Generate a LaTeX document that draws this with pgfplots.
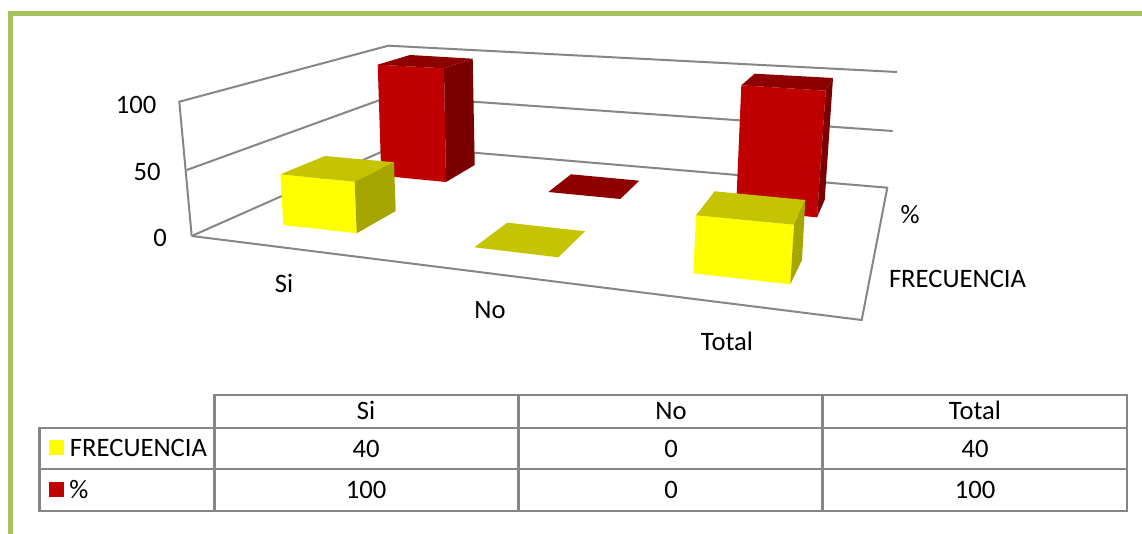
\documentclass[border=0pt]{standalone}
\usepackage{pgfplots}
\pgfplotsset{compat=1.18}
\usepackage{fontspec}
\setmainfont{Carlito}
\definecolor{wall}{HTML}{868686}
\definecolor{frame}{HTML}{A4C35F}
\definecolor{yF}{HTML}{FFFF00}
\definecolor{yT}{HTML}{C4C400}
\definecolor{yR}{HTML}{A6A600}
\definecolor{rF}{HTML}{C00000}
\definecolor{rT}{HTML}{8E0000}
\definecolor{rR}{HTML}{7A0000}
\newcommand{\lab}[3]{\node[anchor=center,inner sep=0pt,yshift=-2.5pt,font=\fontsize{26.6}{29}\selectfont] at (axis cs:#1,#2) {\strut #3};}
\begin{document}
\begin{tikzpicture}
\begin{axis}[
  scale only axis, width=1142pt, height=534pt,
  xmin=0, xmax=1142, ymin=0, ymax=534, y dir=reverse,
  hide axis, clip=true, axis background/.style={fill=white},
  every axis plot/.append style={mark=none, line join=miter}
]
% frame
\addplot[frame, line width=5pt] coordinates {(10.5,534) (10.5,14) (1142,14)};
% walls and floor
\addplot[wall, line width=2pt] coordinates {(191.7,236) (861.7,320) (887.3,187.7) (394.7,146) (191.7,236)};
\addplot[wall, line width=2pt] coordinates {(191.7,236) (179.3,101.7) (388.3,45.7) (897,72)};
\addplot[wall, line width=2pt] coordinates {(186.7,170) (391,96) (892.7,131)};
% % series, Si
\addplot[fill=rF, draw=none] coordinates {(377.7,64.7) (444,68.3) (446,182) (381.3,175.7)} -- cycle;
\addplot[fill=rT, draw=none] coordinates {(377.7,64.7) (410,55) (472.7,58.7) (444,68.3)} -- cycle;
\addplot[fill=rR, draw=none] coordinates {(444,68.3) (472.7,58.7) (474.7,165) (446,182)} -- cycle;
% FRECUENCIA, Si
\addplot[fill=yF, draw=none] coordinates {(280.3,174.3) (354.7,181.7) (356.7,233.3) (283.3,225)} -- cycle;
\addplot[fill=yT, draw=none] coordinates {(280.3,174.3) (325,156) (394,162.3) (354.7,181.7)} -- cycle;
\addplot[fill=yR, draw=none] coordinates {(354.7,181.7) (394,162.3) (395.7,211) (356.7,233.3)} -- cycle;
% No (zero height)
\addplot[fill=rT, draw=none] coordinates {(571,174.3) (639.3,180.7) (620.3,199) (548.3,192)} -- cycle;
\addplot[fill=yT, draw=none] coordinates {(507.3,222.7) (585,231.3) (558.3,257.3) (474.3,247.3)} -- cycle;
% % series, Total
\addplot[fill=rF, draw=none] coordinates {(741.3,85.3) (825.7,90.7) (817,217.3) (736,210)} -- cycle;
\addplot[fill=rT, draw=none] coordinates {(741.3,85.3) (754.7,73.7) (833,78) (825.7,90.7)} -- cycle;
\addplot[fill=rR, draw=none] coordinates {(825.7,90.7) (833,78) (824.7,200) (817,217.3)} -- cycle;
% FRECUENCIA, Total
\addplot[fill=yF, draw=none] coordinates {(696,215.3) (794,224.7) (790.3,284.3) (693.3,273.3)} -- cycle;
\addplot[fill=yT, draw=none] coordinates {(696,215.3) (714.7,191.3) (805.3,200) (794,224.7)} -- cycle;
\addplot[fill=yR, draw=none] coordinates {(794,224.7) (805.3,200) (802,260) (790.3,284.3)} -- cycle;
% table grid
\addplot[wall, line width=2.4pt] coordinates {(214.5,511) (214.5,395) (1127,395) (1127,511) (39.5,511) (39.5,428) (1127,428)};
\addplot[wall, line width=2.4pt] coordinates {(39.5,469) (1127,469)};
\addplot[wall, line width=2.4pt] coordinates {(518.5,395) (518.5,511)};
\addplot[wall, line width=2.4pt] coordinates {(822.5,395) (822.5,511)};
% legend keys
\addplot[fill=yF, draw=none] coordinates {(49,440) (64,440) (64,455) (49,455)} -- cycle;
\addplot[fill=rF, draw=none] coordinates {(49,482) (64,482) (64,497) (49,497)} -- cycle;
% axis text
\lab{136}{105}{100}
\lab{147}{172}{50}
\lab{160}{238}{0}
\lab{284}{284}{Si}
\lab{490}{310}{No}
\lab{727}{342}{Total}
\lab{910}{215}{\%}
\lab{957.5}{279}{FRECUENCIA}
% table text
\lab{366}{411}{Si}
\lab{671}{411}{No}
\lab{975}{411}{Total}
\lab{138.5}{448}{FRECUENCIA}
\lab{366}{449}{40}
\lab{671}{449}{0}
\lab{975}{449}{40}
\lab{79}{490}{\%}
\lab{366}{490}{100}
\lab{671}{490}{0}
\lab{975}{490}{100}
\end{axis}
\end{tikzpicture}
\end{document}
